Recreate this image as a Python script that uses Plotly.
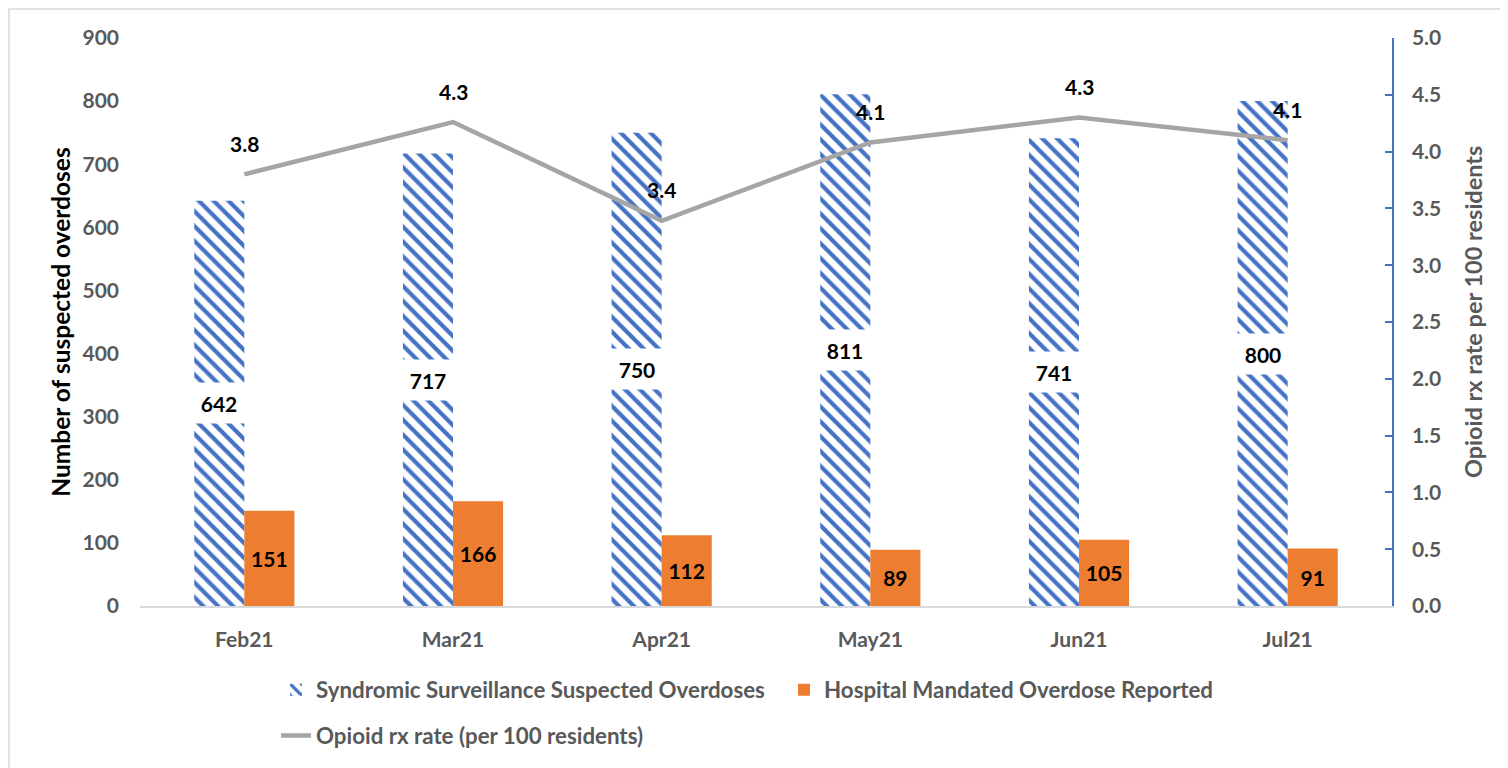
import plotly.graph_objects as go

# ---- data ----
months = ["Feb21", "Mar21", "Apr21", "May21", "Jun21", "Jul21"]
syndromic = [642, 717, 750, 811, 741, 800]
hospital = [151, 166, 112, 89, 105, 91]
rx_rate = [3.8, 4.26, 3.39, 4.08, 4.3, 4.1]

left_ticks = [0, 100, 200, 300, 400, 500, 600, 700, 800, 900]
right_ticks = [0.0, 0.5, 1.0, 1.5, 2.0, 2.5, 3.0, 3.5, 4.0, 4.5, 5.0]

# ---- style ----
FONT = "Lato"
GRAY = "#595959"
BLUE = "#4472C4"
ORANGE = "#ED7D31"
LINE = "#A5A5A5"
W, H = 1500, 760          # page body adds an 8px margin
ML, MT = 132, 30
PW, PH = 1252, 570
MR = W - ML - PW
MB = H - MT - PH
BARGAP = 0.52
LBL = 21

fig = go.Figure()

fig.add_trace(go.Bar(
    x=months, y=syndromic, name="Syndromic Surveillance Suspected Overdoses",
    marker=dict(color="white", line=dict(width=0),
                pattern=dict(shape="\\", fgcolor=BLUE, bgcolor="white",
                             size=10.5, solidity=0.4, fillmode="replace")),
))
fig.add_trace(go.Bar(
    x=months, y=hospital, name="Hospital Mandated Overdose Reported",
    marker=dict(color=ORANGE, line=dict(width=0)),
    text=hospital, textposition="inside", insidetextanchor="middle",
    textfont=dict(family=FONT, size=LBL, color="black", weight="bold"),
))
fig.add_trace(go.Scatter(
    x=months, y=rx_rate, name="Opioid rx rate (per 100 residents)",
    mode="lines", line=dict(color=LINE, width=4.5), yaxis="y2",
    legend="legend2",
))

# value labels for syndromic bars (white boxes at mid-height)
off = (1 - BARGAP) / 4
for i, v in enumerate(syndromic):
    fig.add_annotation(x=i - off, y=v / 2, xref="x", yref="y", text=str(v),
                       showarrow=False, bgcolor="white", width=50, height=38,
                       font=dict(family=FONT, size=LBL, color="black", weight="bold"))
# line labels
for i, r in enumerate(rx_rate):
    fig.add_annotation(x=i, y=r, xref="x", yref="y2", text=f"{r:.1f}",
                       showarrow=False, yshift=31,
                       font=dict(family=FONT, size=LBL, color="black", weight="bold"))

# right axis title
fig.add_annotation(text="Opioid rx rate per 100 residents", textangle=-90,
                   xref="paper", yref="paper", showarrow=False,
                   x=(1473 - 8 - ML) / PW, y=(MT + PH - (313 - 8)) / PH,
                   xanchor="center", yanchor="middle",
                   font=dict(family=FONT, size=23.5, color=GRAY, weight="bold"))

# outer border
fig.add_shape(type="rect", xref="paper", yref="paper",
              x0=(1 - ML) / PW, x1=(W + 20 - ML) / PW,
              y0=(MT + PH - (H + 20)) / PH, y1=(MT + PH - 1) / PH,
              line=dict(color="#D9D9D9", width=1.5), fillcolor="rgba(0,0,0,0)", layer="below")

leg_x = (268 - ML) / PW
LEGFONT = dict(family=FONT, size=22.3, color=GRAY, weight="bold")
fig.update_layout(
    width=W, height=H, autosize=False,
    margin=dict(l=ML, r=MR, t=MT, b=MB),
    paper_bgcolor="white", plot_bgcolor="white",
    barmode="group", bargap=BARGAP, bargroupgap=0,
    font=dict(family=FONT, color=GRAY),
    showlegend=True,
    xaxis=dict(showgrid=False, showline=True, linecolor="#D9D9D9", linewidth=1.5,
               ticks="", ticklabelstandoff=14,
               tickfont=dict(family=FONT, size=21, color=GRAY, weight="bold")),
    yaxis=dict(range=[0, 900], tickvals=left_ticks, showgrid=False, zeroline=False,
               showline=False, ticks="", ticklabelstandoff=20,
               tickfont=dict(family=FONT, size=21, color=GRAY, weight="bold"),
               title=dict(text="Number of suspected overdoses", standoff=4,
                          font=dict(family=FONT, size=24.5, color="black", weight="bold"))),
    yaxis2=dict(range=[0, 5], tickvals=right_ticks, tickformat=".1f", overlaying="y",
                side="right", showgrid=False, zeroline=False,
                showline=True, linecolor=BLUE, linewidth=1.5,
                ticks="inside", ticklen=7, tickcolor=BLUE, tickwidth=1.5,
                ticklabelstandoff=14,
                tickfont=dict(family=FONT, size=21, color=GRAY, weight="bold")),
    legend=dict(orientation="h", x=leg_x, xanchor="left",
                y=(PH - (684 - MT)) / PH, yanchor="middle",
                font=LEGFONT, itemwidth=30, entrywidth=463, entrywidthmode="pixels",
                bgcolor="rgba(0,0,0,0)"),
    legend2=dict(orientation="h", x=leg_x, xanchor="left",
                 y=(PH - (730 - MT)) / PH, yanchor="middle",
                 font=LEGFONT, itemwidth=30,
                 bgcolor="rgba(0,0,0,0)"),
)

fig.write_html("out.html")
